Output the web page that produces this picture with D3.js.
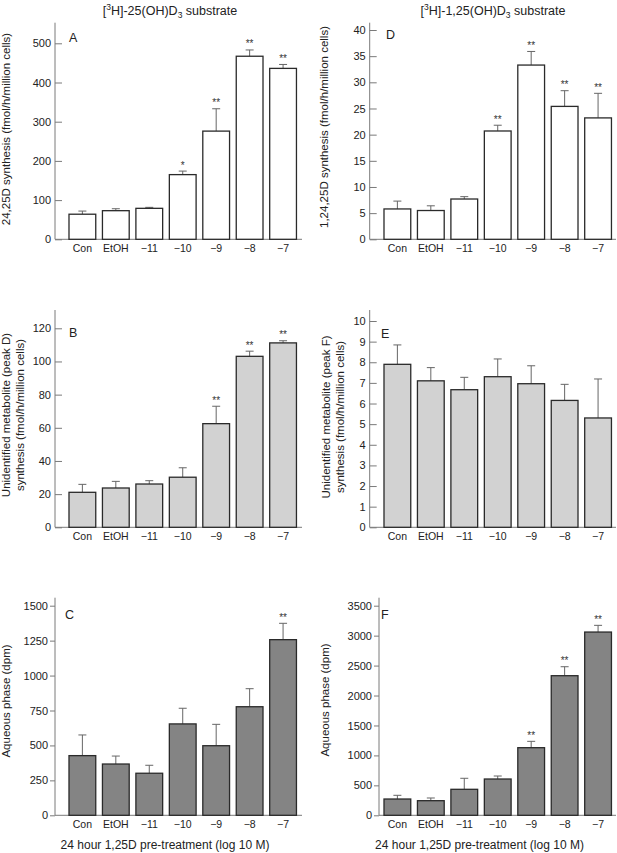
<!DOCTYPE html>
<html>
<head>
<meta charset="utf-8">
<script src="https://cdn.jsdelivr.net/npm/d3@7"></script>
<style>
  html, body { margin: 0; padding: 0; background: #fff; }
  svg { display: block; font-family: "Liberation Sans", Arial, sans-serif; }
</style>
</head>
<body>
<svg id="chart" width="617" height="853"></svg>
<script>
// ---------- DATA ----------
const categories = ["Con", "EtOH", "\u221211", "\u221210", "\u22129", "\u22128", "\u22127"];

const valuesA = [64, 73, 79, 165, 276, 467, 436];
const errorsA = [8, 5, 2.5, 9, 57, 16, 10];
const starsA  = ["", "", "", "*", "**", "**", "**"];
const ticksA  = [0, 100, 200, 300, 400, 500];

const valuesD = [5.8, 5.5, 7.7, 20.7, 33.3, 25.4, 23.2];
const errorsD = [1.5, 0.9, 0.45, 1.1, 2.6, 3.0, 4.7];
const starsD  = ["", "", "", "**", "**", "**", "**"];
const ticksD  = [0, 5, 10, 15, 20, 25, 30, 35, 40];

const valuesB = [21.1, 23.7, 26.1, 30.2, 62.5, 103.1, 111.2];
const errorsB = [4.8, 4.0, 2.0, 5.7, 10.5, 3.1, 1.3];
const starsB  = ["", "", "", "", "**", "**", "**"];
const ticksB  = [0, 20, 40, 60, 80, 100, 120];

const valuesE = [7.9, 7.1, 6.67, 7.3, 6.96, 6.15, 5.3];
const errorsE = [0.94, 0.64, 0.6, 0.86, 0.87, 0.78, 1.89];
const starsE  = ["", "", "", "", "", "", ""];
const ticksE  = [0, 1, 2, 3, 4, 5, 6, 7, 8, 9, 10];

const valuesC = [427, 367, 301, 654, 498, 777, 1257];
const errorsC = [148, 57, 57, 112, 153, 129, 117];
const starsC  = ["", "", "", "", "", "", "**"];
const ticksC  = [0, 250, 500, 750, 1000, 1250, 1500];

const valuesF = [272, 244, 434, 606, 1129, 2331, 3060];
const errorsF = [62, 45, 184, 50, 106, 150, 112];
const starsF  = ["", "", "", "", "**", "**", "**"];
const ticksF  = [0, 500, 1000, 1500, 2000, 2500, 3000, 3500];

const titleLeft  = {pre: "[", sup: "3", mid: "H]-25(OH)D", sub: "3", post: " substrate"};
const titleRight = {pre: "[", sup: "3", mid: "H]-1,25(OH)D", sub: "3", post: " substrate"};
const xAxisLabel = "24 hour 1,25D pre-treatment (log 10 M)";

const labelsA = ["24,25D synthesis (fmol/h/million cells)"];
const labelsD = ["1,24,25D synthesis (fmol/h/million cells)"];
const labelsB = ["Unidentified metabolite (peak D)", "synthesis (fmol/h/million cells)"];
const labelsE = ["Unidentified metabolite (peak F)", "synthesis (fmol/h/million cells)"];
const labelsC = ["Aqueous phase (dpm)"];
const labelsF = ["Aqueous phase (dpm)"];

// ---------- LAYOUT ----------
const svg = d3.select("#chart");

const panels = [
  {letter: "A", values: valuesA, errors: errorsA, stars: starsA, ticks: ticksA, labels: labelsA,
   fill: "#ffffff", axisX: 55, xEnd: 302, bandStart: 65.65, y0: 239.3, yTopTick: 43.3, yTopVal: 500, axisTop: 22.7,
   labelX: [9.5], labelY: 129, letterX: 69, letterY: 42, tickIn: true},
  {letter: "D", values: valuesD, errors: errorsD, stars: starsD, ticks: ticksD, labels: labelsD,
   fill: "#ffffff", axisX: 369.7, xEnd: 616, bandStart: 380.65, y0: 239.3, yTopTick: 30, yTopVal: 40, axisTop: 22.7,
   labelX: [327.5], labelY: 127, letterX: 386, letterY: 39, tickIn: true},
  {letter: "B", values: valuesB, errors: errorsB, stars: starsB, ticks: ticksB, labels: labelsB,
   fill: "#d2d2d2", axisX: 55, xEnd: 302, bandStart: 65.65, y0: 527.3, yTopTick: 328.3, yTopVal: 120, axisTop: 310,
   labelX: [10, 23.5], labelY: 415, letterX: 69, letterY: 337, tickIn: true},
  {letter: "E", values: valuesE, errors: errorsE, stars: starsE, ticks: ticksE, labels: labelsE,
   fill: "#d2d2d2", axisX: 369.7, xEnd: 616, bandStart: 380.65, y0: 527.3, yTopTick: 321, yTopVal: 10, axisTop: 310,
   labelX: [330, 343.5], labelY: 417, letterX: 381, letterY: 338, tickIn: true},
  {letter: "C", values: valuesC, errors: errorsC, stars: starsC, ticks: ticksC, labels: labelsC,
   fill: "#848484", axisX: 55, xEnd: 302, bandStart: 65.65, y0: 815.3, yTopTick: 605.7, yTopVal: 1500, axisTop: 597.7,
   labelX: [10], labelY: 701, letterX: 65, letterY: 619, tickIn: false},
  {letter: "F", values: valuesF, errors: errorsF, stars: starsF, ticks: ticksF, labels: labelsF,
   fill: "#848484", axisX: 379, xEnd: 616, bandStart: 380.65, y0: 815.3, yTopTick: 605.7, yTopVal: 3500, axisTop: 597.7,
   labelX: [328.5], labelY: 700, letterX: 381, letterY: 619, tickIn: false}
];

const axisColor = "#7a7a7a";
const textColor = "#222";

panels.forEach(p => {
  const g = svg.append("g");
  const x = d3.scaleBand().domain(categories)
    .range([p.bandStart, p.bandStart + 234.15])
    .paddingInner(0.2).paddingOuter(0.1);
  const y = d3.scaleLinear().domain([0, p.yTopVal]).range([p.y0, p.yTopTick]);

  // Y axis
  const yAxis = d3.axisLeft(y).tickValues(p.ticks).tickFormat(d3.format("d"))
    .tickSizeInner(p.tickIn ? -7 : 5).tickSizeOuter(0).tickPadding(p.tickIn ? 4 : 2);
  const ya = g.append("g").attr("transform", `translate(${p.axisX},0)`).call(yAxis);
  ya.select(".domain").remove();
  ya.selectAll(".tick line").attr("stroke", axisColor);
  ya.selectAll(".tick text").attr("fill", textColor).style("font-size", "11px")
    .style("font-family", "'Liberation Sans', Arial, sans-serif");
  g.append("line").attr("x1", p.axisX).attr("x2", p.axisX)
    .attr("y1", p.axisTop).attr("y2", p.y0).attr("stroke", axisColor).attr("stroke-width", 1);

  // X axis
  const xAxis = d3.axisBottom(x).tickSize(0).tickPadding(5.5);
  const xa = g.append("g").attr("transform", `translate(0,${p.y0})`).call(xAxis);
  xa.select(".domain").remove();
  xa.selectAll(".tick text").attr("fill", textColor).style("font-size", "10.5px")
    .style("font-family", "'Liberation Sans', Arial, sans-serif");
  g.append("line").attr("x1", p.axisX).attr("x2", p.xEnd)
    .attr("y1", p.y0).attr("y2", p.y0).attr("stroke", axisColor).attr("stroke-width", 1);

  const data = categories.map((c, i) => ({c, v: p.values[i], e: p.errors[i], s: p.stars[i]}));

  // Error bars (upper only)
  const eb = g.append("g").attr("stroke", "#666").attr("stroke-width", 1);
  eb.selectAll("line.v").data(data).join("line").attr("class", "v")
    .attr("x1", d => x(d.c) + x.bandwidth() / 2).attr("x2", d => x(d.c) + x.bandwidth() / 2)
    .attr("y1", d => y(d.v)).attr("y2", d => y(d.v + d.e));
  eb.selectAll("line.cap").data(data).join("line").attr("class", "cap")
    .attr("x1", d => x(d.c) + x.bandwidth() / 2 - 4).attr("x2", d => x(d.c) + x.bandwidth() / 2 + 4)
    .attr("y1", d => y(d.v + d.e)).attr("y2", d => y(d.v + d.e));

  // Bars
  g.append("g").selectAll("rect").data(data).join("rect")
    .attr("x", d => x(d.c)).attr("width", x.bandwidth())
    .attr("y", d => y(d.v)).attr("height", d => p.y0 - y(d.v))
    .attr("fill", p.fill).attr("stroke", "#2a2a2a").attr("stroke-width", 1.3);

  // Significance stars
  g.append("g").selectAll("text").data(data.filter(d => d.s)).join("text")
    .attr("x", d => x(d.c) + x.bandwidth() / 2)
    .attr("y", d => y(d.v + d.e) - 2.5)
    .attr("text-anchor", "middle").attr("fill", "#333")
    .style("font-size", "10px").text(d => d.s);

  // Panel letter
  g.append("text").attr("x", p.letterX).attr("y", p.letterY)
    .attr("fill", textColor).style("font-size", "12.5px").text(p.letter);

  // Y label
  p.labels.forEach((lab, i) => {
    g.append("text")
      .attr("transform", `translate(${p.labelX[i]},${p.labelY}) rotate(-90)`)
      .attr("text-anchor", "middle").attr("fill", textColor)
      .style("font-size", "11.5px").text(lab);
  });
});

// Titles
function title(t, cx) {
  const tx = svg.append("text").attr("x", cx).attr("y", 14.5).attr("text-anchor", "middle")
    .attr("fill", textColor).style("font-size", "12.5px");
  tx.append("tspan").text(t.pre);
  tx.append("tspan").attr("dy", -5).style("font-size", "8.5px").text(t.sup);
  tx.append("tspan").attr("dy", 5).text(t.mid);
  tx.append("tspan").attr("dy", 3).style("font-size", "8.5px").text(t.sub);
  tx.append("tspan").attr("dy", -3).text(t.post);
}
title(titleLeft, 170);
title(titleRight, 493);

// X axis titles
[165, 479.5].forEach(cx => {
  svg.append("text").attr("x", cx).attr("y", 849).attr("text-anchor", "middle")
    .attr("fill", textColor).style("font-size", "12px").text(xAxisLabel);
});
</script>
</body>
</html>
